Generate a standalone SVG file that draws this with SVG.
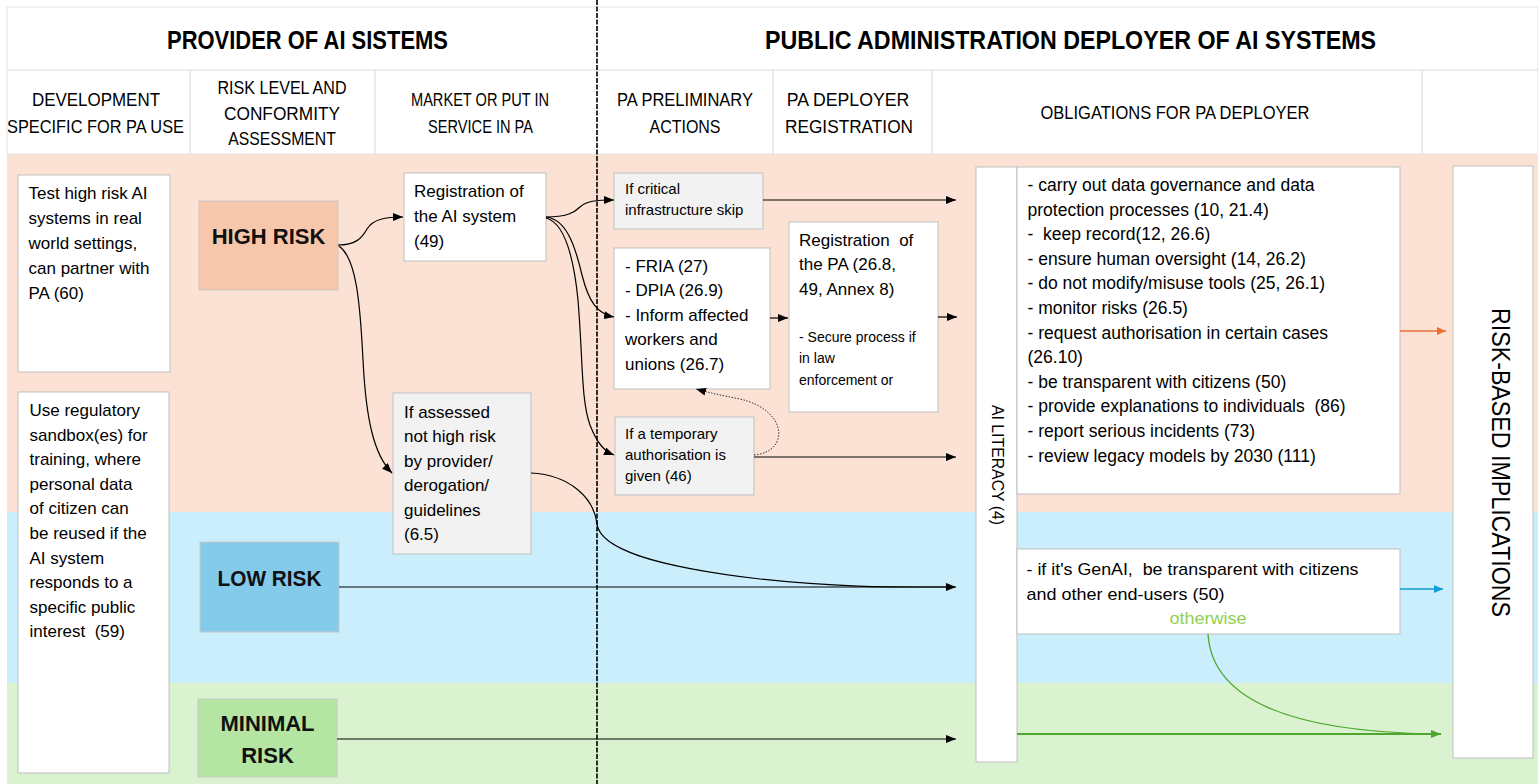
<svg xmlns="http://www.w3.org/2000/svg" width="1538" height="784" viewBox="0 0 1538 784">
  <defs>
    <style>
      .t { font-family: "Liberation Sans", Arial, sans-serif; fill: #000; white-space: pre; }
      .hd { font-size: 19px; text-anchor: middle; }
      .ttl { font-size: 25px; font-weight: bold; text-anchor: middle; }
      .body { font-size: 17px; }
      .small { font-size: 15px; }
      .tiny { font-size: 14px; }
      .risk { font-size: 22px; font-weight: bold; text-anchor: middle; fill: #111; }
      .box { fill: #fff; stroke: #BFBFBF; stroke-width: 1; }
      .gbox { fill: #F2F2F2; stroke: #BFBFBF; stroke-width: 1; }
      .hline { stroke: #D9D9D9; stroke-width: 1; fill: none; }
      .conn { fill: none; stroke: #000; stroke-width: 1.2; }
      .dot { fill: none; stroke: #333; stroke-width: 1; stroke-dasharray: 1.5 1.5; }
    </style>
    <marker id="ah" markerUnits="userSpaceOnUse" markerWidth="10" markerHeight="8" refX="10" refY="4" orient="auto">
      <path d="M0,0 L10,4 L0,8 z" fill="#000"/>
    </marker>
    <marker id="ah-or" markerUnits="userSpaceOnUse" markerWidth="9" markerHeight="8" refX="9" refY="4" orient="auto">
      <path d="M0,0 L9,4 L0,8 z" fill="#E97132"/>
    </marker>
    <marker id="ah-bl" markerUnits="userSpaceOnUse" markerWidth="9" markerHeight="8" refX="9" refY="4" orient="auto">
      <path d="M0,0 L9,4 L0,8 z" fill="#0F9ED5"/>
    </marker>
    <marker id="ah-gr" markerUnits="userSpaceOnUse" markerWidth="10" markerHeight="8" refX="10" refY="4" orient="auto">
      <path d="M0,0 L10,4 L0,8 z" fill="#4EA72E"/>
    </marker>
  </defs>

  <rect x="0" y="0" width="1538" height="784" fill="#fff"/>

  <!-- risk bands -->
  <g id="bands">
    <rect x="7" y="154" width="1531" height="358" fill="#FBE2D5"/>
    <rect x="7" y="512" width="1531" height="171" fill="#CAEEFB"/>
    <rect x="7" y="683" width="1531" height="101" fill="#DAF2D0"/>
  </g>

  <!-- header table -->
  <g id="header">
    <rect x="7" y="7" width="1531" height="147" fill="#fff" stroke="#E3E3E3"/>
    <line class="hline" x1="7" y1="70" x2="1538" y2="70"/>
    <line class="hline" x1="190" y1="70" x2="190" y2="154"/>
    <line class="hline" x1="375" y1="70" x2="375" y2="154"/>
    <line class="hline" x1="773" y1="70" x2="773" y2="154"/>
    <line class="hline" x1="932" y1="70" x2="932" y2="154"/>
    <line class="hline" x1="1422" y1="70" x2="1422" y2="154"/>
    <text class="t ttl" x="307.5" y="49" textLength="281" lengthAdjust="spacingAndGlyphs">PROVIDER OF AI SISTEMS</text>
    <text class="t ttl" x="1070.5" y="49" textLength="611" lengthAdjust="spacingAndGlyphs">PUBLIC ADMINISTRATION DEPLOYER OF AI SYSTEMS</text>
    <text class="t hd" x="96" y="106" textLength="128" lengthAdjust="spacingAndGlyphs">DEVELOPMENT</text>
    <text class="t hd" x="95.5" y="133" textLength="177" lengthAdjust="spacingAndGlyphs">SPECIFIC FOR PA USE</text>
    <text class="t hd" x="282" y="94" textLength="129" lengthAdjust="spacingAndGlyphs">RISK LEVEL AND</text>
    <text class="t hd" x="282" y="119.5" textLength="116" lengthAdjust="spacingAndGlyphs">CONFORMITY</text>
    <text class="t hd" x="282" y="145" textLength="107.5" lengthAdjust="spacingAndGlyphs">ASSESSMENT</text>
    <text class="t hd" x="480" y="106" textLength="138" lengthAdjust="spacingAndGlyphs">MARKET OR PUT IN</text>
    <text class="t hd" x="480.5" y="133" textLength="105" lengthAdjust="spacingAndGlyphs">SERVICE IN PA</text>
    <text class="t hd" x="685" y="106" textLength="136" lengthAdjust="spacingAndGlyphs">PA PRELIMINARY</text>
    <text class="t hd" x="685" y="133" textLength="71" lengthAdjust="spacingAndGlyphs">ACTIONS</text>
    <text class="t hd" x="848" y="106" textLength="122.5" lengthAdjust="spacingAndGlyphs">PA DEPLOYER</text>
    <text class="t hd" x="849" y="133" textLength="128" lengthAdjust="spacingAndGlyphs">REGISTRATION</text>
    <text class="t hd" x="1175" y="119" textLength="269" lengthAdjust="spacingAndGlyphs">OBLIGATIONS FOR PA DEPLOYER</text>
  </g>

  <!-- provider / deployer divider -->
  <line id="divider" x1="597" y1="0" x2="597" y2="784" stroke="#000" stroke-width="1.6" stroke-dasharray="5 1.5"/>

  <!-- nodes -->
  <g id="test-real-world">
    <rect class="box" x="18" y="175" width="152" height="197"/>
    <text class="t body">
      <tspan x="28.5" y="199">Test high risk AI</tspan>
      <tspan x="28.5" y="224">systems in real</tspan>
      <tspan x="28.5" y="249">world settings,</tspan>
      <tspan x="28.5" y="274">can partner with</tspan>
      <tspan x="28.5" y="299">PA (60)</tspan>
    </text>
  </g>

  <g id="sandbox">
    <rect class="box" x="18" y="392" width="151" height="381"/>
    <text class="t body">
      <tspan x="29.5" y="416">Use regulatory</tspan>
      <tspan x="29.5" y="440.6">sandbox(es) for</tspan>
      <tspan x="29.5" y="465.2">training, where</tspan>
      <tspan x="29.5" y="489.8">personal data</tspan>
      <tspan x="29.5" y="514.4">of citizen can</tspan>
      <tspan x="29.5" y="539">be reused if the</tspan>
      <tspan x="29.5" y="563.6">AI system</tspan>
      <tspan x="29.5" y="588.2">responds to a</tspan>
      <tspan x="29.5" y="612.8">specific public</tspan>
      <tspan x="29.5" y="637.4">interest  (59)</tspan>
    </text>
  </g>

  <g id="high-risk">
    <rect x="199" y="201" width="139" height="89" fill="#F7C7AC" stroke="#C8C8C8"/>
    <text class="t risk" x="268.5" y="244">HIGH RISK</text>
  </g>

  <g id="low-risk">
    <rect x="200" y="542" width="139" height="90" fill="#83CAEB" stroke="#C8C8C8"/>
    <text class="t risk" x="269.5" y="586" textLength="104" lengthAdjust="spacingAndGlyphs">LOW RISK</text>
  </g>

  <g id="minimal-risk">
    <rect x="198" y="699" width="139" height="78" fill="#B4E5A2" stroke="#C8C8C8"/>
    <text class="t risk" x="267.5" y="731">MINIMAL</text>
    <text class="t risk" x="267.5" y="763">RISK</text>
  </g>

  <g id="registration-ai">
    <rect class="box" x="404" y="173" width="142" height="88"/>
    <text class="t body">
      <tspan x="414" y="197">Registration of</tspan>
      <tspan x="414" y="222">the AI system</tspan>
      <tspan x="414" y="247">(49)</tspan>
    </text>
  </g>

  <g id="not-high-risk">
    <rect class="gbox" x="393" y="393" width="138" height="161"/>
    <text class="t body">
      <tspan x="404" y="417.5">If assessed</tspan>
      <tspan x="404" y="442">not high risk</tspan>
      <tspan x="404" y="466.5">by provider/</tspan>
      <tspan x="404" y="491">derogation/</tspan>
      <tspan x="404" y="515.5">guidelines</tspan>
      <tspan x="404" y="540">(6.5)</tspan>
    </text>
  </g>

  <g id="critical-infrastructure">
    <rect class="gbox" x="614" y="173" width="149" height="56"/>
    <text class="t small">
      <tspan x="625" y="193.5">If critical</tspan>
      <tspan x="625" y="214.5">infrastructure skip</tspan>
    </text>
  </g>

  <g id="preliminary-assessments">
    <rect class="box" x="614" y="248" width="156" height="141"/>
    <text class="t body">
      <tspan x="625" y="272">- FRIA (27)</tspan>
      <tspan x="625" y="296">- DPIA (26.9)</tspan>
      <tspan x="625" y="320.5">- Inform affected</tspan>
      <tspan x="625" y="345">workers and</tspan>
      <tspan x="625" y="369.5">unions (26.7)</tspan>
    </text>
  </g>

  <g id="temporary-authorisation">
    <rect class="gbox" x="615" y="417" width="139" height="78"/>
    <text class="t small">
      <tspan x="625" y="438.5">If a temporary</tspan>
      <tspan x="625" y="459.5">authorisation is</tspan>
      <tspan x="625" y="481">given (46)</tspan>
    </text>
  </g>

  <g id="registration-pa">
    <rect class="box" x="789" y="222" width="149" height="190"/>
    <text class="t body">
      <tspan x="799" y="246">Registration  of</tspan>
      <tspan x="799" y="270">the PA (26.8,</tspan>
      <tspan x="799" y="294.5">49, Annex 8)</tspan>
    </text>
    <text class="t tiny">
      <tspan x="799" y="341.5">- Secure process if</tspan>
      <tspan x="799" y="363">in law</tspan>
      <tspan x="799" y="385">enforcement or</tspan>
    </text>
  </g>

  <g id="ai-literacy">
    <rect class="box" x="976" y="167" width="41" height="595"/>
    <text class="t" font-size="16" text-anchor="middle" transform="translate(991.5,465) rotate(90)" textLength="120" lengthAdjust="spacingAndGlyphs">AI LITERACY (4)</text>
  </g>

  <g id="deployer-obligations">
    <rect class="box" x="1017" y="167" width="383" height="327"/>
    <text class="t" font-size="17.5">
      <tspan x="1027.5" y="191">- carry out data governance and data</tspan>
      <tspan x="1027.5" y="215.6">protection processes (10, 21.4)</tspan>
      <tspan x="1027.5" y="240.2">-  keep record(12, 26.6)</tspan>
      <tspan x="1027.5" y="264.8">- ensure human oversight (14, 26.2)</tspan>
      <tspan x="1027.5" y="289.4">- do not modify/misuse tools (25, 26.1)</tspan>
      <tspan x="1027.5" y="314">- monitor risks (26.5)</tspan>
      <tspan x="1027.5" y="338.6">- request authorisation in certain cases</tspan>
      <tspan x="1027.5" y="363.2">(26.10)</tspan>
      <tspan x="1027.5" y="387.8">- be transparent with citizens (50)</tspan>
      <tspan x="1027.5" y="412.4">- provide explanations to individuals  (86)</tspan>
      <tspan x="1027.5" y="437">- report serious incidents (73)</tspan>
      <tspan x="1027.5" y="461.6">- review legacy models by 2030 (111)</tspan>
    </text>
  </g>

  <g id="genai-obligations">
    <rect class="box" x="1017" y="549" width="383" height="85"/>
    <text class="t" font-size="17" x="1026.5" y="574.5" textLength="332" lengthAdjust="spacingAndGlyphs">- if it's GenAI,  be transparent with citizens</text>
    <text class="t" font-size="17" x="1026.5" y="599.5" textLength="198" lengthAdjust="spacingAndGlyphs">and other end-users (50)</text>
    <text class="t" font-size="17" x="1208" y="623.5" text-anchor="middle" style="fill:#8FD14F" textLength="77" lengthAdjust="spacingAndGlyphs">otherwise</text>
  </g>

  <g id="risk-implications">
    <rect class="box" x="1453" y="166" width="80" height="592"/>
    <text class="t" font-size="26" text-anchor="middle" transform="translate(1492,462.5) rotate(90)" textLength="309" lengthAdjust="spacingAndGlyphs">RISK-BASED IMPLICATIONS</text>
  </g>

  <!-- connectors -->
  <g id="connectors">
    <path class="conn" d="M338,245 C356,245 362,238 367,229 C373,219 386,217 403,217" marker-end="url(#ah)"/>
    <path class="conn" d="M339,246 C356,258 360,300 363,360 C366,420 374,455 392,473" marker-end="url(#ah)"/>
    <path class="conn" d="M546,217 C566,217 574,213 580,207 C586,201 596,200 614,200" marker-end="url(#ah)"/>
    <path class="conn" d="M546,217 C566,219 575,245 582,275 C589,303 598,314 614,317" marker-end="url(#ah)"/>
    <path class="conn" d="M546,218 C562,222 573,250 578,300 C583,360 581,400 590,425 C597,443 604,451 614,455" marker-end="url(#ah)"/>
    <path class="conn" d="M763,200 L956,200" marker-end="url(#ah)"/>
    <path class="conn" d="M770,318 L788,318" marker-end="url(#ah)"/>
    <path class="conn" d="M938,317 L957,317" marker-end="url(#ah)"/>
    <path class="conn" d="M754,457 L956,457" marker-end="url(#ah)"/>
    <path class="dot" d="M754,455 C790,452 788,410 740,399 C720,395 710,393 696,389" marker-end="url(#ah)"/>
    <path class="conn" d="M531,473 C570,475 594,498 597,524 C600,548 650,566 760,579 C840,588 900,587 950,587"/>
    <path class="conn" d="M339,587 L956,587" marker-end="url(#ah)"/>
    <path class="conn" d="M337,739 L956,739" marker-end="url(#ah)"/>
    <path fill="none" stroke="#E97132" stroke-width="1.3" d="M1400,331 L1446,331" marker-end="url(#ah-or)"/>
    <path fill="none" stroke="#0F9ED5" stroke-width="1.3" d="M1400,589 L1443,589" marker-end="url(#ah-bl)"/>
    <path fill="none" stroke="#4EA72E" stroke-width="2" d="M1017,734 L1441,734" marker-end="url(#ah-gr)"/>
    <path fill="none" stroke="#4EA72E" stroke-width="1.3" d="M1208,634 C1212,700 1290,732 1436,734"/>
  </g>
</svg>
